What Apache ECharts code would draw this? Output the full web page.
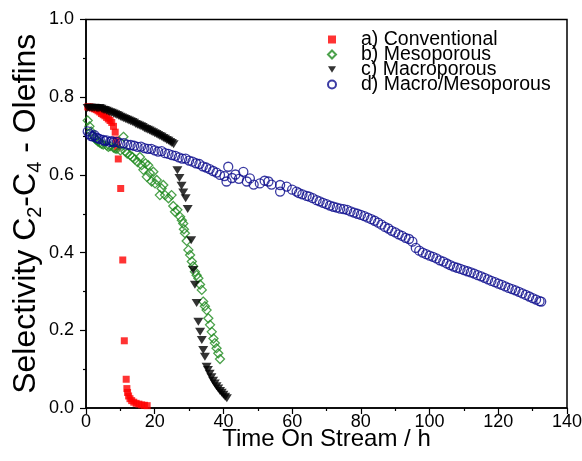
<!DOCTYPE html>
<html>
<head>
<meta charset="utf-8">
<script src="https://cdn.jsdelivr.net/npm/echarts@6/dist/echarts.min.js"></script>
<style>
html,body{margin:0;padding:0;background:#fff;}
#chart{width:582px;height:461px;}
</style>
</head>
<body>
<div id="chart"></div>
<script>
// ---- data ----
var seriesNames = ['a) Conventional', 'b) Mesoporous', 'c) Macroporous', 'd) Macro/Mesoporous'];
var xTicks = [0, 20, 40, 60, 80, 100, 120, 140];
var yTicks = [0.0, 0.2, 0.4, 0.6, 0.8, 1.0];

var convX = [0.5,1,1.5,2,2.5,3,3.5,4,4.5,5,5.5,6,6.5,7,7.5,8,8.5,8.8,9.1,9.4,10.1,10.7,11.15,11.7,11.9,12.1,12.4,12.8,13.3,13.9,14.6,15.4,16.2,17,17.8];
var convY = [0.775,0.775,0.774,0.772,0.77,0.768,0.765,0.762,0.758,0.755,0.752,0.748,0.744,0.74,0.735,0.725,0.71,0.69,0.672,0.641,0.565,0.381,0.173,0.074,0.05,0.04,0.031,0.024,0.019,0.015,0.012,0.01,0.008,0.007,0.006];

var mesoX = [0.5,1,1.5,2,2.5,3,3.5,4,4.5,5,6,6.5,7,8,8.5,9,10,10.9,11.5,12,12.8,13.5,14.2,15,15.7,16.2,16.7,17.3,17.7,18.1,18.6,19.1,19.6,20.1,20.6,21.5,22,22.5,23,24,24.9,25.4,25.9,26.6,27.4,27.9,28.3,28.5,28.8,29.3,29.8,30.3,30.8,31.2,31.7,32.2,32.7,33.2,33.7,34.1,34.6,35.1,35.6,36.1,36.6,37.1,37.5,38,38.5,39];
var mesoY = [0.74,0.725,0.712,0.702,0.695,0.69,0.686,0.683,0.68,0.678,0.676,0.672,0.674,0.67,0.668,0.667,0.663,0.698,0.66,0.655,0.651,0.646,0.64,0.633,0.646,0.625,0.613,0.63,0.595,0.625,0.605,0.583,0.608,0.578,0.587,0.548,0.565,0.574,0.548,0.54,0.548,0.52,0.505,0.51,0.492,0.483,0.475,0.46,0.45,0.43,0.407,0.394,0.377,0.365,0.351,0.342,0.334,0.318,0.304,0.274,0.262,0.252,0.231,0.214,0.196,0.179,0.167,0.154,0.141,0.126];

var macroX = [0.5,1,1.5,2,2.5,3,3.5,4,4.5,5,5.5,6,6.5,7,7.5,8,8.5,9,9.5,10,10.5,11,11.5,12,12.5,13,13.5,14,14.5,15,15.5,16,16.5,17,17.5,18,18.5,19,19.5,20,20.5,21,21.5,22,22.5,23,23.5,24,24.5,25,25.5,26.6,27.2,27.8,28.3,29,29.6,30.6,31.2,31.7,32.2,32.7,33.2,33.7,34.1,34.6,35.1,35.5,36,36.5,37,37.5,38,38.5,39,39.5,40,40.5,41];
var macroY = [0.772,0.773,0.773,0.772,0.773,0.772,0.771,0.772,0.77,0.768,0.767,0.765,0.763,0.761,0.76,0.758,0.756,0.754,0.752,0.75,0.748,0.746,0.744,0.742,0.74,0.738,0.736,0.734,0.731,0.729,0.727,0.725,0.723,0.72,0.718,0.716,0.714,0.712,0.71,0.707,0.705,0.703,0.7,0.698,0.695,0.693,0.69,0.688,0.685,0.682,0.679,0.612,0.592,0.572,0.555,0.54,0.512,0.432,0.355,0.317,0.27,0.222,0.196,0.175,0.149,0.132,0.106,0.098,0.088,0.079,0.07,0.063,0.056,0.05,0.044,0.039,0.034,0.029,0.025];

var mmX = [0.5,1,1.5,2,2.5,3,3.5,4,5,5.5,6,7,7.5,8,9,10,11,12,13,14,15,16,17,18,19,20,21,22,23,24,25,26,27,28,29,30,31,32,33,34,35,36,37,38,39,40.3,41.4,40.9,42.5,43.5,44.5,45.8,46.8,47.7,48.8,50.6,52,53.1,54,56.5,56.5,58.4,60,61.3,62,63,64.2,65,66,67.1,68,69,70,71,72,73,74,75,76,77,78,79,80,81,82,83,84,85,86,87,88,89,90,91,92,93,94,95,96,97,98,99,100,101,102,103,104,105,106,107,108,109,110,111,112,113,114,115,116,117,118,119,120,121,122,123,124,125,126,127,128,129,130,131,132,132.5];
var mmY = [0.712,0.705,0.70,0.699,0.702,0.696,0.694,0.692,0.69,0.687,0.689,0.685,0.687,0.684,0.685,0.681,0.682,0.678,0.677,0.675,0.672,0.673,0.669,0.667,0.667,0.663,0.66,0.661,0.656,0.654,0.651,0.649,0.645,0.642,0.642,0.637,0.634,0.63,0.628,0.622,0.619,0.615,0.61,0.606,0.60,0.597,0.621,0.583,0.592,0.601,0.59,0.608,0.583,0.591,0.575,0.578,0.585,0.583,0.575,0.574,0.557,0.57,0.562,0.557,0.553,0.55,0.546,0.544,0.54,0.535,0.532,0.528,0.525,0.521,0.518,0.516,0.513,0.512,0.51,0.506,0.503,0.5,0.497,0.494,0.49,0.486,0.482,0.477,0.472,0.466,0.462,0.456,0.452,0.447,0.443,0.438,0.435,0.428,0.412,0.405,0.4,0.396,0.392,0.389,0.385,0.38,0.377,0.372,0.368,0.364,0.361,0.358,0.355,0.352,0.349,0.346,0.342,0.339,0.335,0.331,0.327,0.324,0.32,0.317,0.313,0.309,0.306,0.303,0.299,0.295,0.291,0.287,0.283,0.279,0.275,0.274];

function zip(xs, ys){ return xs.map(function(x,i){ return [x, ys[i]]; }); }

var FONT = 'Liberation Sans, Arial, sans-serif';
var triDown = 'path://M0,0 L10,0 L5,8 Z';

var chart = echarts.init(document.getElementById('chart'), null, {renderer:'canvas'});
chart.setOption({
  animation: false,
  backgroundColor: '#fff',
  textStyle: {fontFamily: FONT},
  grid: {left: 86, right: 15, top: 19.5, bottom: 53, outerBoundsMode: 'none', containLabel: false,
    show: true, borderColor: '#000', borderWidth: 1.5, backgroundColor: 'transparent'},
  legend: {
    orient: 'vertical', left: 327, top: 29.5, padding: 0,
    itemWidth: 8, itemHeight: 8, itemGap: -5,
    textStyle: {fontFamily: FONT, fontSize: 19.5, color: '#000', padding: [0,0,0,20]},
    data: seriesNames
  },
  xAxis: {
    type: 'value', min: 0, max: 140, interval: 20,
    name: 'Time On Stream / h', nameLocation: 'middle', nameGap: 19, nameMoveOverlap: false,
    nameTextStyle: {fontFamily: FONT, fontSize: 24, color: '#000', verticalAlign: 'top'},
    axisLine: {lineStyle: {color: '#000', width: 1.5}},
    axisTick: {length: 6, lineStyle: {color: '#000', width: 1.2}},
    minorTick: {show: true, splitNumber: 2, length: 3, lineStyle: {color: '#000', width: 1.2}},
    axisLabel: {fontFamily: FONT, fontSize: 18, color: '#000', margin: 5,
      formatter: function(v){ return xTicks.indexOf(v) >= 0 ? String(v) : ''; }},
    splitLine: {show: false}
  },
  yAxis: {
    type: 'value', min: 0, max: 1, interval: 0.2,
    name: 'Selectivity C{s|2}-C{s|4} - Olefins', nameLocation: 'middle', nameGap: 41, nameMoveOverlap: false,
    nameTextStyle: {fontFamily: FONT, fontSize: 32, color: '#000', lineHeight: 38,
      rich: {s: {fontFamily: FONT, fontSize: 20, color: '#000', verticalAlign: 'bottom', lineHeight: 20}}},
    axisLine: {lineStyle: {color: '#000', width: 1.5}},
    axisTick: {length: 6, lineStyle: {color: '#000', width: 1.2}},
    minorTick: {show: true, splitNumber: 2, length: 3, lineStyle: {color: '#000', width: 1.2}},
    axisLabel: {fontFamily: FONT, fontSize: 18, color: '#000', margin: 12,
      formatter: function(v){ return v.toFixed(1); }},
    splitLine: {show: false}
  },
  series: [
    {name: seriesNames[0], type: 'scatter', symbol: 'rect', symbolSize: 7,
      itemStyle: {color: '#ff0000'}, data: zip(convX, convY)},
    {name: seriesNames[1], type: 'scatter', symbol: 'diamond', symbolSize: 9,
      itemStyle: {color: 'rgba(255,255,255,0)', borderColor: '#1e8a1e', borderWidth: 1.3}, data: zip(mesoX, mesoY)},
    {name: seriesNames[2], type: 'scatter', symbol: triDown, symbolSize: [10, 8], symbolKeepAspect: false,
      itemStyle: {color: '#000'}, data: zip(macroX, macroY)},
    {name: seriesNames[3], type: 'scatter', symbol: 'circle', symbolSize: 9,
      itemStyle: {color: 'rgba(255,255,255,0)', borderColor: '#0a0a8c', borderWidth: 1.3}, data: zip(mmX, mmY)}
  ]
});
</script>
</body>
</html>
